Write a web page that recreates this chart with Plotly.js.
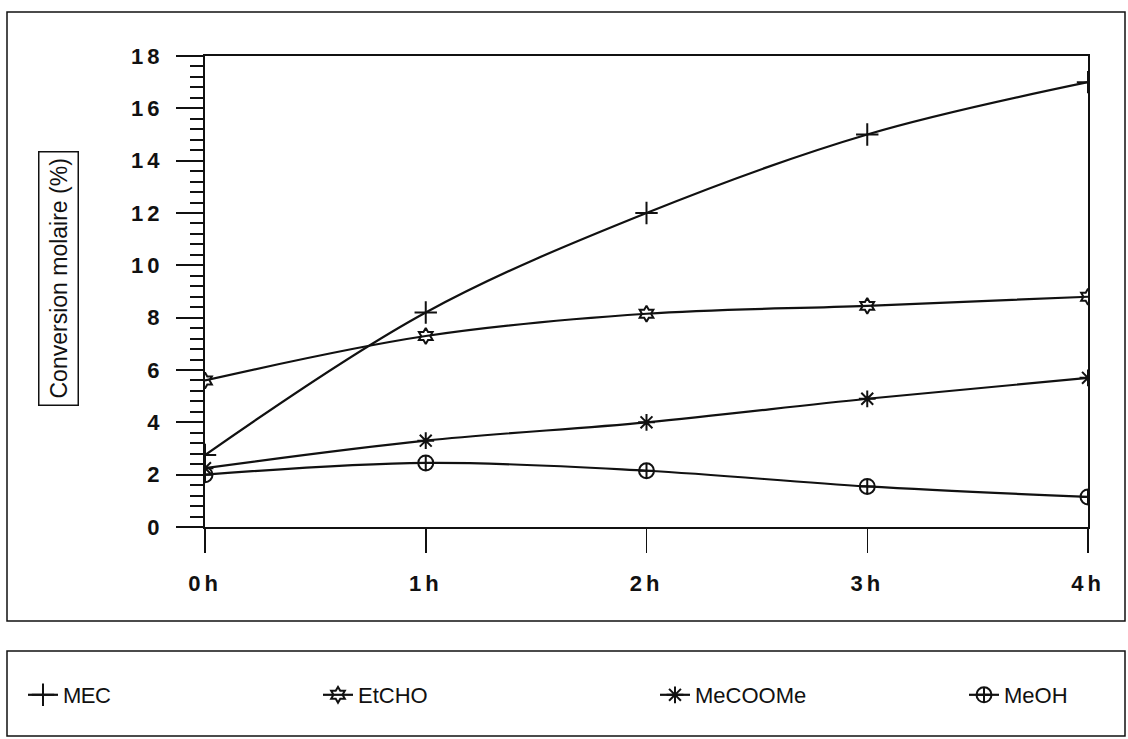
<!DOCTYPE html>
<html>
<head>
<meta charset="utf-8">
<script src="https://cdn.plot.ly/plotly-3.0.1.min.js"></script>
<style>
  html, body { margin: 0; padding: 0; background: #fff; }
  #chart { width: 1128px; height: 739px; }
  .xtick text, .ytick text { letter-spacing: 4px; }
  .legendtext { letter-spacing: -0.5px; }
</style>
</head>
<body>
<div id="chart"></div>
<script>
// Reaction times (hours) and tick labels
const hours = [0, 1, 2, 3, 4];
const hourLabels = ['0h', '1h', '2h', '3h', '4h'];

// Molar conversion (%) per product
const mec      = [2.75, 8.2, 12.0, 15.0, 17.0];
const etcho    = [5.6, 7.3, 8.15, 8.45, 8.8];
const mecoome  = [2.25, 3.3, 4.0, 4.9, 5.7];
const meoh     = [2.0, 2.45, 2.15, 1.55, 1.15];

const seriesNames = ['MEC', 'EtCHO', 'MeCOOMe', 'MeOH'];

// Plot area in page pixels
const W = 1128, H = 739;
const L = 205, R = 1088, T = 56, B = 527;
const px = x => (x - L) / (R - L);
const py = y => (B - y) / (B - T);

const ink = '#111';
const FONT = 'Liberation Sans, Arial, Helvetica, sans-serif';

function series(name, y, symbol, size, legendId) {
  return {
    x: hours, y: y, name: name, type: 'scatter', mode: 'lines+markers',
    line: { color: ink, width: 2.2, shape: 'spline', smoothing: 1 },
    marker: { symbol: symbol, size: size, color: ink, line: { color: ink, width: 2 } },
    cliponaxis: true,
    legend: legendId
  };
}

const data = [
  series(seriesNames[0], mec, 'cross-thin-open', 16, 'legend'),
  series(seriesNames[1], etcho, 'hexagram-open', 12, 'legend2'),
  series(seriesNames[2], mecoome, 'asterisk-open', 14, 'legend3'),
  series(seriesNames[3], meoh, 'circle-cross-open', 15, 'legend4')
];

// One legend box per entry so the four keys spread along the strip below the chart
function legendAt(left) {
  return {
    orientation: 'h',
    x: px(left), xanchor: 'left',
    y: py(695), yanchor: 'middle',
    bgcolor: 'rgba(0,0,0,0)', borderwidth: 0,
    font: { family: FONT, size: 22, color: ink },
    itemclick: false
  };
}

const layout = {
  width: W, height: H,
  margin: { l: L, r: W - R, t: T, b: H - B, pad: 0 },
  paper_bgcolor: '#fff', plot_bgcolor: '#fff',
  font: { family: FONT, color: ink, size: 20 },
  showlegend: true,
  xaxis: {
    range: [0, 4], tickvals: hours, ticktext: hourLabels,
    showgrid: false, zeroline: false,
    showline: true, linecolor: ink, linewidth: 2, mirror: true,
    ticks: 'outside', ticklen: 24, tickwidth: 1.5, tickcolor: ink,
    ticklabelstandoff: 12,
    tickfont: { family: FONT, size: 22, color: ink, weight: 'bold' }
  },
  yaxis: {
    range: [0, 18], dtick: 2, tick0: 0,
    showgrid: false, zeroline: false,
    showline: true, linecolor: ink, linewidth: 2, mirror: true,
    ticks: 'outside', ticklen: 27, tickwidth: 2, tickcolor: ink,
    ticklabelstandoff: 8,
    tickfont: { family: FONT, size: 22, color: ink, weight: 'bold' },
    minor: { dtick: 0.4, tick0: 0, ticks: 'outside', ticklen: 13, tickwidth: 2, tickcolor: ink, showgrid: false }
  },
  legend: legendAt(23),
  legend2: legendAt(318),
  legend3: legendAt(655),
  legend4: legendAt(964),
  annotations: [{
    xref: 'paper', yref: 'paper',
    x: px(58), y: py(279), xanchor: 'center', yanchor: 'middle',
    text: 'Conversion molaire (%)', textangle: -90,
    showarrow: false,
    font: { family: FONT, size: 23, color: ink },
    bordercolor: ink, borderwidth: 1.5, borderpad: 6, bgcolor: '#fff'
  }],
  shapes: [
    // frame around the chart
    { type: 'rect', xref: 'paper', yref: 'paper',
      x0: px(7), x1: px(1125), y0: py(621), y1: py(12),
      line: { color: ink, width: 1.5 }, layer: 'below' },
    // frame around the legend
    { type: 'rect', xref: 'paper', yref: 'paper',
      x0: px(7), x1: px(1125), y0: py(736), y1: py(651),
      line: { color: ink, width: 1.5 }, layer: 'below' }
  ]
};

Plotly.newPlot('chart', data, layout, { displayModeBar: false, staticPlot: true });
</script>
</body>
</html>
